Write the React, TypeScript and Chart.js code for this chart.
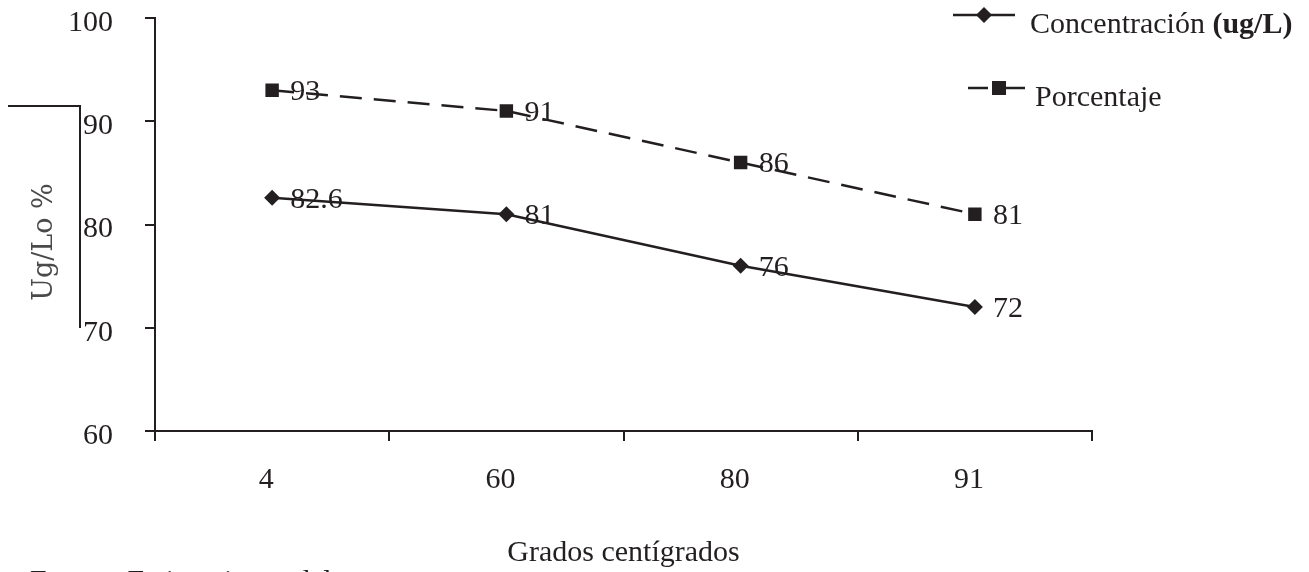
import React, { useEffect, useRef } from "react";
import { Chart, registerables } from "chart.js";

Chart.register(...registerables);

const categories = ["4", "60", "80", "91"];
const concentracion = [82.6, 81, 76, 72];
const porcentaje = [93, 91, 86, 81];
const yTicks = [60, 70, 80, 90, 100];
const seriesNames = ["Concentración", "Porcentaje"];
const xTitle = "Grados centígrados";
const yTitle = "Ug/Lo %";
const sourceNote = "Fuente: Estimaciones del autor";

const INK = "#231f20";
const SERIF = "'Liberation Serif', 'Times New Roman', serif";

const extrasPlugin = {
  id: "extras",
  afterDatasetsDraw(chart: any) {
    const ctx = chart.ctx;
    ctx.save();
    // data labels
    ctx.font = `30px ${SERIF}`;
    ctx.fillStyle = INK;
    ctx.textAlign = "left";
    ctx.textBaseline = "middle";
    chart.data.datasets.forEach((ds: any, i: number) => {
      const meta = chart.getDatasetMeta(i);
      meta.data.forEach((pt: any, j: number) => {
        ctx.fillText(String(ds.data[j]), pt.x + 18, pt.y + 2);
      });
    });

    // y title bracket
    ctx.strokeStyle = INK;
    ctx.lineWidth = 2;
    ctx.setLineDash([]);
    ctx.beginPath();
    ctx.moveTo(8, 106);
    ctx.lineTo(80, 106);
    ctx.lineTo(80, 328);
    ctx.stroke();

    // y title
    ctx.save();
    ctx.translate(45, 242);
    ctx.rotate(-Math.PI / 2);
    ctx.font = `27px 'DejaVu Serif', serif`;
    ctx.fillStyle = "#4a4a4a";
    ctx.textAlign = "center";
    ctx.textBaseline = "middle";
    ctx.fillText(yTitle, 0, 0);
    ctx.restore();

    // legend
    ctx.lineWidth = 2.5;
    ctx.strokeStyle = INK;
    ctx.fillStyle = INK;
    // row 1
    ctx.beginPath();
    ctx.moveTo(953, 15);
    ctx.lineTo(1015, 15);
    ctx.stroke();
    ctx.beginPath();
    ctx.moveTo(984, 7);
    ctx.lineTo(992, 15);
    ctx.lineTo(984, 23);
    ctx.lineTo(976, 15);
    ctx.closePath();
    ctx.fill();
    ctx.textAlign = "left";
    ctx.textBaseline = "middle";
    ctx.font = `30px ${SERIF}`;
    ctx.fillText(seriesNames[0] + " ", 1030, 25);
    const w = ctx.measureText(seriesNames[0] + " ").width;
    ctx.font = `bold 30px ${SERIF}`;
    ctx.fillText("(ug/L)", 1030 + w, 25);
    // row 2
    ctx.beginPath();
    ctx.moveTo(968, 88);
    ctx.lineTo(988, 88);
    ctx.moveTo(1005, 88);
    ctx.lineTo(1025, 88);
    ctx.stroke();
    ctx.fillRect(992, 81, 14, 14);
    ctx.font = `30px ${SERIF}`;
    ctx.fillText(seriesNames[1], 1035, 98);

    // source note (cut off at bottom)
    ctx.textBaseline = "alphabetic";
    ctx.fillText(sourceNote, 30, 590);
    ctx.restore();
  },
};

export default function App() {
  const ref = useRef<HTMLCanvasElement>(null);
  useEffect(() => {
    if (!ref.current) return;
    const chart = new Chart(ref.current, {
      type: "line",
      data: {
        labels: categories,
        datasets: [
          {
            label: seriesNames[0],
            data: concentracion,
            borderColor: INK,
            backgroundColor: INK,
            borderWidth: 2.5,
            pointStyle: "rectRot",
            pointRadius: 8,
            pointBorderWidth: 0,
            tension: 0,
          },
          {
            label: seriesNames[1],
            data: porcentaje,
            borderColor: INK,
            backgroundColor: INK,
            borderWidth: 2.5,
            borderDash: [22, 12],
            pointStyle: "rect",
            pointRadius: 9.5,
            pointBorderWidth: 0,
            tension: 0,
          },
        ],
      },
      options: {
        responsive: false,
        animation: false,
        layout: { padding: { top: 18, right: 217, left: 0, bottom: 0 } },
        plugins: {
          legend: { display: false },
          tooltip: { enabled: false },
        },
        scales: {
          x: {
            type: "category",
            offset: true,
            grid: {
              display: true,
              drawOnChartArea: false,
              drawTicks: true,
              tickLength: 10,
              offset: true,
              color: INK,
              lineWidth: 2,
            },
            border: { display: true, color: INK, width: 2 },
            ticks: {
              color: INK,
              font: { family: SERIF, size: 30 },
              padding: 21,
              labelOffset: -6,
              maxRotation: 0,
            },
            title: {
              display: true,
              text: xTitle,
              color: INK,
              font: { family: SERIF, size: 30 },
              padding: { top: 0, bottom: 1 },
            },
            afterFit(scale: any) {
              scale.height = 141;
              scale.paddingLeft = 0;
              scale.paddingRight = 0;
            },
          },
          y: {
            min: yTicks[0],
            max: yTicks[yTicks.length - 1],
            afterBuildTicks(scale: any) {
              scale.ticks = yTicks.map((v) => ({ value: v }));
            },
            grid: {
              display: true,
              drawOnChartArea: false,
              drawTicks: true,
              tickLength: 10,
              color: INK,
              lineWidth: 2,
            },
            border: { display: true, color: INK, width: 2 },
            ticks: {
              color: INK,
              font: { family: SERIF, size: 30 },
              padding: 32,
              labelOffset: 5,
            },
            afterFit(scale: any) {
              scale.width = 155;
              scale.paddingTop = 0;
              scale.paddingBottom = 0;
            },
          },
        },
      },
      plugins: [extrasPlugin],
    });
    return () => chart.destroy();
  }, []);
  return (
    <div style={{ position: "absolute", left: 0, top: 0, width: 1309, height: 572, background: "#fff" }}>
      <canvas ref={ref} width={1309} height={572} />
    </div>
  );
}
